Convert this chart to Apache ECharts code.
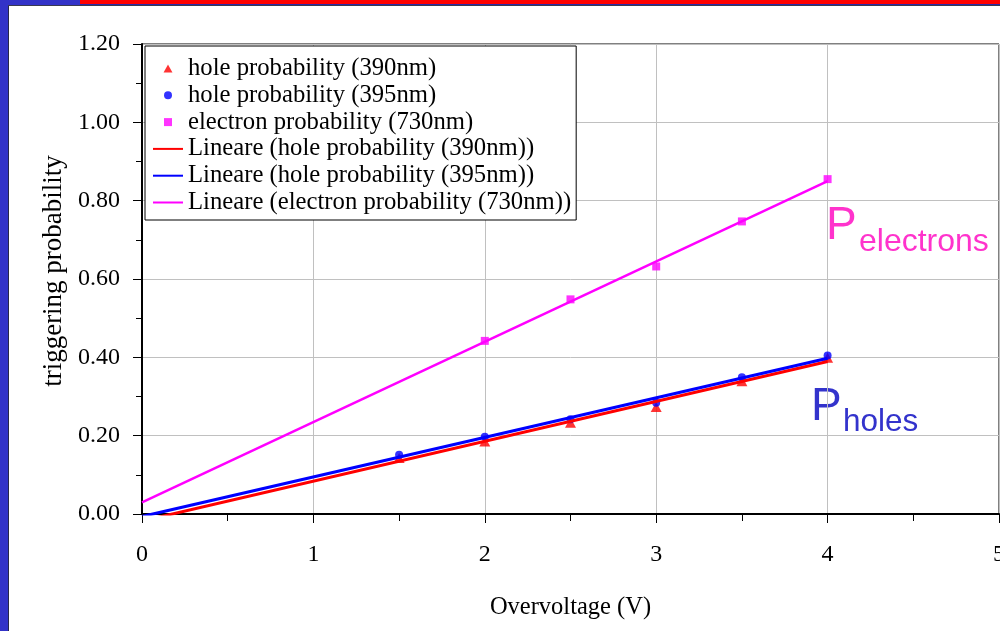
<!DOCTYPE html>
<html>
<head>
<meta charset="utf-8">
<script src="https://cdn.jsdelivr.net/npm/echarts@6/dist/echarts.min.js"></script>
<style>
  html, body { margin: 0; padding: 0; background: #fff; }
  #chart { position: absolute; left: 0; top: 0; width: 1000px; height: 631px; }
  .deco { position: absolute; z-index: 10; }
</style>
</head>
<body>
<div id="chart"></div>
<div class="deco" style="left:0;top:0;width:8px;height:631px;background:#3232c8;"></div>
<div class="deco" style="left:8px;top:5px;width:1px;height:626px;background:#26264a;"></div>
<div class="deco" style="left:0;top:0;width:80px;height:5px;background:#3232c8;"></div>
<div class="deco" style="left:80px;top:0;width:920px;height:4px;background:#ff0000;"></div>
<div class="deco" style="left:80px;top:4px;width:920px;height:1px;background:#2a2aa8;"></div>
<div class="deco" style="left:8px;top:5px;width:992px;height:1px;background:#3a3a50;"></div>
<script>
// ---- data ----
const voltsHole = [1.5, 2, 2.5, 3, 3.5, 4];
const hole390 = [0.143, 0.185, 0.233, 0.273, 0.339, 0.399];
const hole395 = [0.151, 0.197, 0.242, 0.284, 0.349, 0.405];
const voltsElec = [2, 2.5, 3, 3.5, 4];
const elec730 = [0.442, 0.548, 0.632, 0.747, 0.855];
const trendStart = 0;
const trendEnd = 4;

const names = [
  'hole probability (390nm)',
  'hole probability (395nm)',
  'electron probability (730nm)',
  'Lineare (hole probability (390nm))',
  'Lineare (hole probability (395nm))',
  'Lineare (electron probability (730nm))'
];

function pairs(xs, ys) { return xs.map((x, i) => [x, ys[i]]); }
function linfit(xs, ys) {
  const n = xs.length;
  const mx = xs.reduce((a, b) => a + b, 0) / n;
  const my = ys.reduce((a, b) => a + b, 0) / n;
  let sxy = 0, sxx = 0;
  for (let i = 0; i < n; i++) { sxy += (xs[i] - mx) * (ys[i] - my); sxx += (xs[i] - mx) ** 2; }
  const m = sxy / sxx, b = my - m * mx;
  return [[trendStart, m * trendStart + b], [trendEnd, m * trendEnd + b]];
}

const serif = 'Liberation Serif';
const lineIcon = 'path://M0,0L60,0L60,4L0,4Z';
const triIcon = 'path://M5,0L10,9L0,9Z';
const circleIcon = 'path://M0,5A5,5 0 1,0 10,5A5,5 0 1,0 0,5Z';
const squareIcon = 'path://M0,0L10,0L10,10L0,10Z';

const chart = echarts.init(document.getElementById('chart'), null, { renderer: 'canvas' });
chart.setOption({
  animation: false,
  backgroundColor: '#ffffff',
  grid: { left: 142, top: 44, right: 1, bottom: 117, outerBoundsMode: 'none', containLabel: false, show: true, borderColor: '#000', borderWidth: 1, backgroundColor: 'transparent' },
  legend: {
    orient: 'vertical',
    left: 145, top: 46,
    padding: [10, 5, 5, 8],
    itemWidth: 30, itemHeight: 8, itemGap: 1.8,
    symbolKeepAspect: true,
    borderColor: '#000', borderWidth: 1, backgroundColor: '#fff',
    itemStyle: { borderWidth: 0 },
    textStyle: { fontFamily: serif, fontSize: 24.7, color: '#000', lineHeight: 24 },
    data: [
      { name: names[0], icon: triIcon },
      { name: names[1], icon: circleIcon },
      { name: names[2], icon: squareIcon },
      { name: names[3], icon: lineIcon },
      { name: names[4], icon: lineIcon },
      { name: names[5], icon: lineIcon }
    ]
  },
  xAxis: {
    type: 'value', min: 0, max: 5, interval: 1,
    name: 'Overvoltage (V)', nameLocation: 'middle', nameGap: 81,
    nameTextStyle: { fontFamily: serif, fontSize: 24.5, color: '#000' },
    axisLine: { show: true, onZero: false, lineStyle: { color: '#000', width: 2 } },
    axisTick: { show: true, inside: false, length: 9, lineStyle: { color: '#000', width: 1 } },
    minorTick: { show: true, splitNumber: 2, length: 7, lineStyle: { color: '#000', width: 1 } },
    axisLabel: { fontFamily: serif, fontSize: 24, color: '#000', margin: 29 },
    splitLine: { show: true, lineStyle: { color: '#c0c0c0', width: 1 } }
  },
  yAxis: {
    type: 'value', min: 0, max: 1.2, interval: 0.2,
    name: 'triggering probability', nameLocation: 'middle', nameGap: 70, nameRotate: 90,
    nameTextStyle: { fontFamily: serif, fontSize: 27, color: '#000', padding: [0, 0, 0, 16] },
    axisLine: { show: true, lineStyle: { color: '#000', width: 2 } },
    axisTick: { show: true, inside: false, length: 9, lineStyle: { color: '#000', width: 1 } },
    minorTick: { show: true, splitNumber: 2, length: 6, lineStyle: { color: '#000', width: 1 } },
    axisLabel: { fontFamily: serif, fontSize: 24, color: '#000', margin: 22, formatter: v => v.toFixed(2) },
    splitLine: { show: true, lineStyle: { color: '#c0c0c0', width: 1 } }
  },
  series: [
    { name: names[0], type: 'scatter', symbol: 'triangle', symbolSize: [11, 10], itemStyle: { color: '#ff0000' }, data: pairs(voltsHole, hole390), z: 2 },
    { name: names[1], type: 'scatter', symbol: 'circle', symbolSize: 8, itemStyle: { color: '#0000ff' }, data: pairs(voltsHole, hole395), z: 2 },
    { name: names[2], type: 'scatter', symbol: 'rect', symbolSize: 8, itemStyle: { color: '#ff00ff' }, data: pairs(voltsElec, elec730), z: 2 },
    { name: names[3], type: 'line', symbol: 'none', clip: true, color: '#ff0000', lineStyle: { color: '#ff0000', width: 3 }, data: linfit(voltsHole, hole390), z: 3 },
    { name: names[4], type: 'line', symbol: 'none', clip: true, color: '#0000ff', lineStyle: { color: '#0000ff', width: 3 }, data: linfit(voltsHole, hole395), z: 3 },
    { name: names[5], type: 'line', symbol: 'none', clip: true, color: '#ff00ff', lineStyle: { color: '#ff00ff', width: 2.5 }, data: linfit(voltsElec, elec730), z: 3 }
  ],
  graphic: [
    { type: 'text', left: 826, top: 203, style: { text: 'P', font: '46px "Liberation Sans"', fill: '#ff33cc' } },
    { type: 'text', left: 859, top: 226, style: { text: 'electrons', font: '32px "Liberation Sans"', fill: '#ff33cc' } },
    { type: 'text', left: 811, top: 384, style: { text: 'P', font: '46px "Liberation Sans"', fill: '#3333cc' } },
    { type: 'text', left: 843, top: 406, style: { text: 'holes', font: '31.5px "Liberation Sans"', fill: '#3333cc' } }
  ]
});
</script>
</body>
</html>
